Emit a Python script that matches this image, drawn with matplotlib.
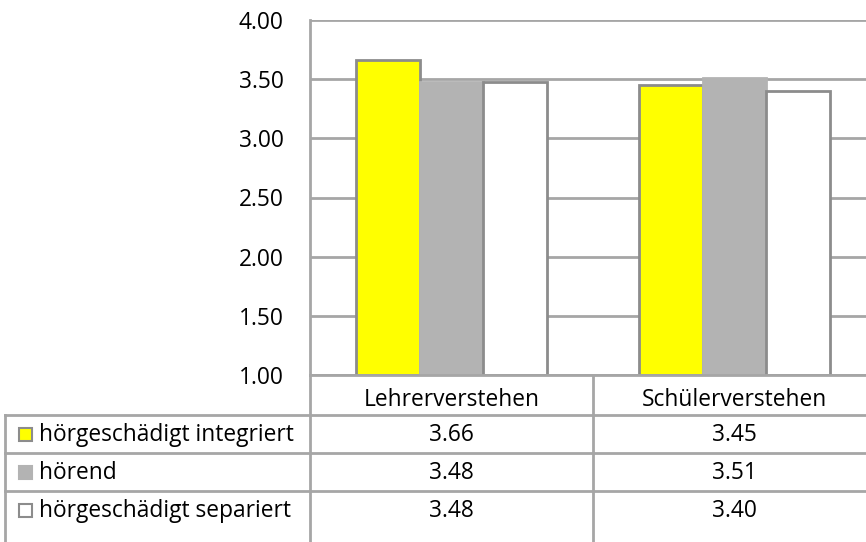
import numpy as np
import matplotlib
matplotlib.use("Agg")
from matplotlib import pyplot as plt
from matplotlib.lines import Line2D
from matplotlib.patches import Rectangle

categories = ["Lehrerverstehen", "Schülerverstehen"]
series = ["hörgeschädigt integriert", "hörend", "hörgeschädigt separiert"]
integriert = [3.66, 3.45]
hoerend = [3.48, 3.51]
separiert = [3.48, 3.40]
values = [integriert, hoerend, separiert]
y_ticks = [1.0, 1.5, 2.0, 2.5, 3.0, 3.5, 4.0]

fills = ["#FFFF00", "#B3B3B3", "#FFFFFF"]
edges = ["#8C8C8C", "#B3B3B3", "#8C8C8C"]
grid_col = "#A6A6A6"
fs = 16.4

plt.rcParams['font.family'] = ['Open Sans', 'DejaVu Sans']

W, H = 866, 542
fig = plt.figure(figsize=(W / 100, H / 100), dpi=100)


def fx(px):
    return px / W


def fy(py):
    return 1 - py / H


# plot area in pixels (right edge runs past the picture)
left, right, top, bottom = 310, 876, 20, 375
ax = fig.add_axes([fx(left), fy(bottom), fx(right - left), fy(top) - fy(bottom)])

x = np.arange(len(categories))
bw = 0.225
for i, vals in enumerate(values):
    ax.bar(x + (i - 1) * bw, np.array(vals) - 1, bottom=1, width=bw,
           color=fills[i], edgecolor=edges[i], linewidth=2, zorder=3)

ax.set_xlim(-0.5, len(categories) - 0.5)
ax.set_ylim(1, 4)
ax.set_yticks(y_ticks)
ax.set_yticklabels([f"{t:.2f}" for t in y_ticks], fontsize=fs)
ax.tick_params(axis="y", length=0, pad=19)
ax.set_xticks([])
ax.grid(axis="y", color=grid_col, linewidth=2, zorder=0)
for s in ["top", "right", "bottom"]:
    ax.spines[s].set_visible(False)
ax.spines["left"].set_color(grid_col)
ax.spines["left"].set_linewidth(2)

# data table below the plot
row_h = 38
col_edges = [left + (right - left) * k / len(categories) for k in range(len(categories) + 1)]
table_left = 5


def hline(y, x0, x1):
    fig.add_artist(Line2D([fx(x0), fx(x1)], [fy(y), fy(y)], color=grid_col, lw=2))


def vline(xp, y0, y1):
    fig.add_artist(Line2D([fx(xp), fx(xp)], [fy(y0), fy(y1)], color=grid_col, lw=2))


hline(bottom, left, W + 20)
for r in range(1, len(series) + 1):
    hline(bottom + r * row_h + 2, table_left, W + 20)
table_bottom = H + 20
vline(table_left, bottom + row_h + 2, table_bottom)
for c in col_edges:
    vline(c, bottom, table_bottom)

for k, cat in enumerate(categories):
    cx = (col_edges[k] + col_edges[k + 1]) / 2
    fig.text(fx(cx), fy(bottom + row_h / 2 + 6), cat, ha="center", va="center", fontsize=fs)

for r, name in enumerate(series):
    cy = bottom + row_h * (r + 1.5) + 3
    fig.add_artist(Rectangle((fx(19), fy(cy + 6)), fx(13), fy(cy - 7) - fy(cy + 6),
                             facecolor=fills[r], edgecolor=edges[r], lw=1.5,
                             transform=fig.transFigure))
    fig.text(fx(39), fy(cy), name, ha="left", va="center", fontsize=fs)
    for k in range(len(categories)):
        cx = (col_edges[k] + col_edges[k + 1]) / 2
        fig.text(fx(cx), fy(cy), f"{values[r][k]:.2f}", ha="center", va="center", fontsize=fs)

fig.savefig("out.png", dpi=100)
